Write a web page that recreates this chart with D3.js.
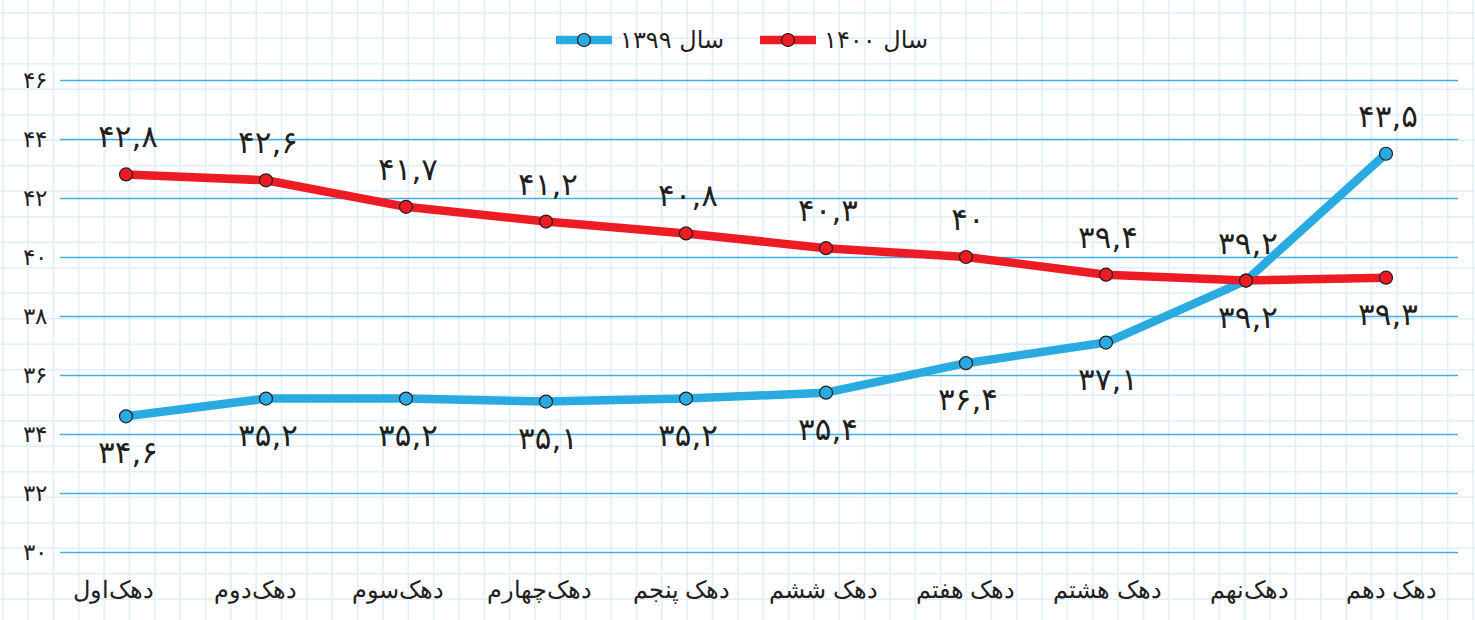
<!DOCTYPE html>
<html><head><meta charset="utf-8">
<script src="https://cdn.jsdelivr.net/npm/d3@7"></script>
<style>
html,body{margin:0;padding:0;background:#fff;}
svg{display:block;font-family:"DejaVu Sans",sans-serif;}
</style></head>
<body><svg id="c" width="1475" height="620"></svg>
<script>
const categories = ["دهک‌اول","دهک‌دوم","دهک‌سوم","دهک‌چهارم","دهک پنجم","دهک ششم","دهک هفتم","دهک هشتم","دهک‌نهم","دهک دهم"];
const series1400 = [42.8,42.6,41.7,41.2,40.8,40.3,40,39.4,39.2,39.3];
const series1399 = [34.6,35.2,35.2,35.1,35.2,35.4,36.4,37.1,39.2,43.5];
const yTicks = [30,32,34,36,38,40,42,44,46];
const legendNames = ["سال ۱۳۹۹","سال ۱۴۰۰"];
// label placement: 1 = above, -1 = below
const pos1400 = [1,1,1,1,1,1,1,1,1,-1];
const pos1399 = [-1,-1,-1,-1,-1,-1,-1,-1,-1,1];

const W=1475,H=620;
const svg=d3.select("#c");
const fa = n => String(n).replace(".",",").replace(/\d/g,d=>"۰۱۲۳۴۵۶۷۸۹"[+d]);

// graph paper background
const bg=svg.append("g");
const gx=d3.range(2.7,W,25.35), gy=d3.range(12.7,H,25.5);
bg.selectAll("line.v").data(gx).join("line").attr("x1",d=>d).attr("x2",d=>d).attr("y1",0).attr("y2",H)
  .attr("stroke","#e2eff9").attr("stroke-width",1.6);
bg.selectAll("line.h").data(gy).join("line").attr("y1",d=>d).attr("y2",d=>d).attr("x1",0).attr("x2",W)
  .attr("stroke","#e2eff9").attr("stroke-width",1.6);

const x=d3.scalePoint().domain(categories).range([126,1386]);
const xLab=d3.scalePoint().domain(categories).range([113,1391]);
const y=d3.scaleLinear().domain([30,46]).range([552,80]);

// horizontal grid
const ya=svg.append("g").attr("transform","translate(1458,0)")
  .call(d3.axisLeft(y).tickValues(yTicks).tickSize(1398).tickFormat(fa));
ya.select(".domain").remove();
ya.selectAll(".tick line").attr("stroke","#3db1e3").attr("stroke-width",1.3);
ya.selectAll(".tick text").attr("x",-1411).attr("font-size",23).attr("fill","#231f20");

// x axis labels
const xa=svg.append("g").attr("transform","translate(0,590)").call(d3.axisBottom(xLab).tickSize(0).tickPadding(0));
xa.select(".domain").remove();
xa.selectAll(".tick text").attr("dy","0.35em").attr("y",0).attr("font-size",24).attr("fill","#231f20");

const line=d3.line().x((d,i)=>x(categories[i])).y(d=>y(d));
function drawSeries(vals,color,posArr){
  svg.append("path").datum(vals).attr("d",line).attr("fill","none").attr("stroke",color)
    .attr("stroke-width",8.5).attr("stroke-linejoin","round");
  svg.append("g").selectAll("circle").data(vals).join("circle")
    .attr("cx",(d,i)=>x(categories[i])).attr("cy",d=>y(d)).attr("r",6.5)
    .attr("fill",color).attr("stroke","#231f20").attr("stroke-width",1.2);
  svg.append("g").selectAll("text").data(vals).join("text")
    .attr("x",(d,i)=>x(categories[i])+2)
    .attr("y",(d,i)=>y(d)+(posArr[i]>0?-27:47))
    .attr("text-anchor","middle").attr("font-size",31).attr("fill","#231f20")
    .text(d=>fa(d));
}
drawSeries(series1399,"#29abe2",pos1399);
drawSeries(series1400,"#ed1c24",pos1400);

// legend
const leg=[{c:"#29abe2",x:556,name:legendNames[0]},{c:"#ed1c24",x:760,name:legendNames[1]}];
leg.forEach(l=>{
  const g=svg.append("g");
  g.append("line").attr("x1",l.x).attr("x2",l.x+56).attr("y1",40).attr("y2",40).attr("stroke",l.c).attr("stroke-width",8.5);
  g.append("circle").attr("cx",l.x+28).attr("cy",40).attr("r",6.5).attr("fill",l.c).attr("stroke","#231f20").attr("stroke-width",1.2);
  g.append("text").attr("x",l.x+64).attr("y",40).attr("dy","0.35em").attr("font-size",24).attr("fill","#231f20")
    .attr("direction","rtl").attr("text-anchor","end").text(l.name);
});
</script></body></html>
